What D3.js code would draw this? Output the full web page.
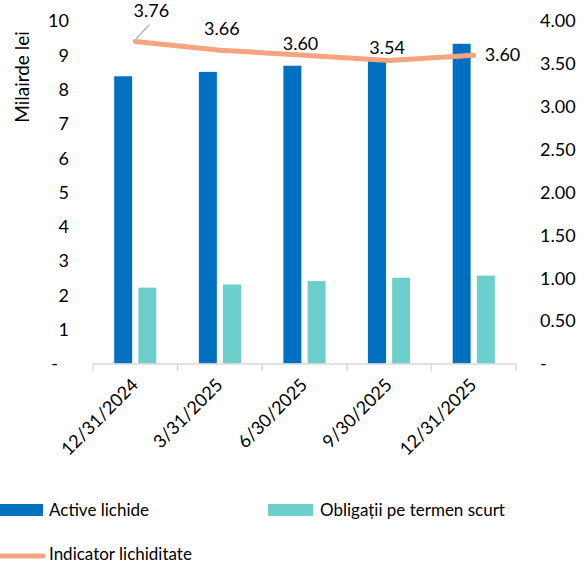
<!DOCTYPE html>
<html>
<head>
<meta charset="utf-8">
<script src="https://cdn.jsdelivr.net/npm/d3@7"></script>
<style>
  body { margin: 0; background: #fff; }
  svg text { font-family: Lato, "Open Sans", sans-serif; fill: #000; }
</style>
</head>
<body>
<div id="chart"></div>
<script>

const dates = ['12/31/2024', '3/31/2025', '6/30/2025', '9/30/2025', '12/31/2025']
const activeLichide = [8.40, 8.53, 8.71, 8.92, 9.35]
const obligatii = [2.24, 2.33, 2.43, 2.53, 2.59]
const indicator = [3.76, 3.66, 3.60, 3.54, 3.60]

const leftTicks = [0, 1, 2, 3, 4, 5, 6, 7, 8, 9, 10]
const rightTicks = [0, 0.5, 1, 1.5, 2, 2.5, 3, 3.5, 4]

const seriesNames = ['Active lichide', 'Obligații pe termen scurt', 'Indicator lichiditate']
const colors = {
    'Active lichide': '#0070C0',
    'Obligații pe termen scurt': '#6CCFCB',
    'Indicator lichiditate': '#F4A57F'
}

const width = 587
const height = 564

const svg = d3.select('#chart')
    .append('svg')
    .attr('width', width)
    .attr('height', height)

const x = d3.scaleBand()
    .domain(dates)
    .range([93, 516])

const xSub = d3.scaleBand()
    .domain(seriesNames.slice(0, 2))
    .range([-21.5, 21.5])
    .paddingInner(0.22)

const yLeft = d3.scaleLinear().domain([0, 10]).range([364, 21])
const yRight = d3.scaleLinear().domain([0, 4]).range([364, 21])

const cx = (d) => x(d) + x.bandwidth() / 2

// bars
const bars = svg.append('g')
const barData = dates.flatMap((d, i) => [
    { date: d, key: seriesNames[0], v: activeLichide[i] },
    { date: d, key: seriesNames[1], v: obligatii[i] }
])
bars.selectAll('rect')
    .data(barData)
    .join('rect')
    .attr('x', (d) => cx(d.date) + xSub(d.key))
    .attr('width', xSub.bandwidth())
    .attr('y', (d) => yLeft(d.v))
    .attr('height', (d) => yLeft(0) - yLeft(d.v))
    .attr('fill', (d) => colors[d.key])
    .attr('stroke', '#fff')
    .attr('stroke-width', 0.8)

// x axis
const xAxis = svg.append('g').attr('transform', `translate(0, ${yLeft(0)})`)
xAxis.append('line')
    .attr('x1', 93).attr('x2', 516)
    .attr('stroke', '#d9d9d9').attr('stroke-width', 1.5)
xAxis.selectAll('.tick')
    .data(dates.concat(['end']))
    .join('line')
    .attr('x1', (d, i) => i < dates.length ? x(d) : x.range()[1])
    .attr('x2', (d, i) => i < dates.length ? x(d) : x.range()[1])
    .attr('y1', 0).attr('y2', 7)
    .attr('stroke', '#d9d9d9').attr('stroke-width', 1.5)
xAxis.selectAll('text')
    .data(dates)
    .join('text')
    .attr('transform', (d) => `translate(${cx(d) + 4}, 22) rotate(-45)`)
    .attr('text-anchor', 'end')
    .attr('font-size', 18)
    .text((d) => d)

// left axis
svg.append('g').selectAll('text')
    .data(leftTicks)
    .join('text')
    .attr('x', (d) => d === 0 ? 58 : 69)
    .attr('y', (d) => yLeft(d))
    .attr('dy', '0.35em')
    .attr('text-anchor', 'end')
    .attr('font-size', 18)
    .text((d) => d === 0 ? '-' : d)

// right axis
svg.append('g').selectAll('text')
    .data(rightTicks)
    .join('text')
    .attr('x', 540)
    .attr('y', (d) => yRight(d))
    .attr('dy', '0.35em')
    .attr('text-anchor', 'start')
    .attr('font-size', 18)
    .text((d) => d === 0 ? '-' : d3.format('.2f')(d))

svg.append('text')
    .attr('transform', 'translate(29, 77) rotate(-90)')
    .attr('text-anchor', 'middle')
    .attr('font-size', 19)
    .text('Milairde lei')

// line
const line = d3.line()
    .x((d, i) => cx(dates[i]))
    .y((d) => yRight(d))

svg.append('path')
    .datum(indicator)
    .attr('d', line)
    .attr('fill', 'none')
    .attr('stroke', colors['Indicator lichiditate'])
    .attr('stroke-width', 5)
    .attr('stroke-linecap', 'round')
    .attr('stroke-linejoin', 'round')

// data labels (manual placement like the original)
const labelOffsets = [[16, -25, 'middle'], [2, -15, 'middle'], [-4, -5, 'middle'], [-2, -6, 'middle'], [11, 6, 'start']]

svg.append('line')
    .attr('x1', cx(dates[0]) + 1).attr('y1', yRight(indicator[0]) - 3)
    .attr('x2', cx(dates[0]) + 14).attr('y2', yRight(indicator[0]) - 17)
    .attr('stroke', '#a6a6a6').attr('stroke-width', 1.2)

svg.append('g').selectAll('text')
    .data(indicator)
    .join('text')
    .attr('x', (d, i) => cx(dates[i]) + labelOffsets[i][0])
    .attr('y', (d, i) => yRight(d) + labelOffsets[i][1])
    .attr('text-anchor', (d, i) => labelOffsets[i][2])
    .attr('font-size', 18)
    .text((d) => d3.format('.2f')(d))

// legend
const legend = svg.append('g')
legend.append('rect').attr('x', 0).attr('y', 504).attr('width', 43).attr('height', 12)
    .attr('fill', colors[seriesNames[0]])
legend.append('text').attr('x', 49).attr('y', 516).attr('font-size', 17).text(seriesNames[0])
legend.append('rect').attr('x', 268).attr('y', 504).attr('width', 45).attr('height', 12)
    .attr('fill', colors[seriesNames[1]])
legend.append('text').attr('x', 320).attr('y', 516).attr('font-size', 17).text(seriesNames[1])
legend.append('line').attr('x1', 0).attr('x2', 43).attr('y1', 556).attr('y2', 556)
    .attr('stroke', colors[seriesNames[2]]).attr('stroke-width', 5).attr('stroke-linecap', 'round')
legend.append('text').attr('x', 49).attr('y', 560).attr('font-size', 17).text(seriesNames[2])

</script>
</body>
</html>
